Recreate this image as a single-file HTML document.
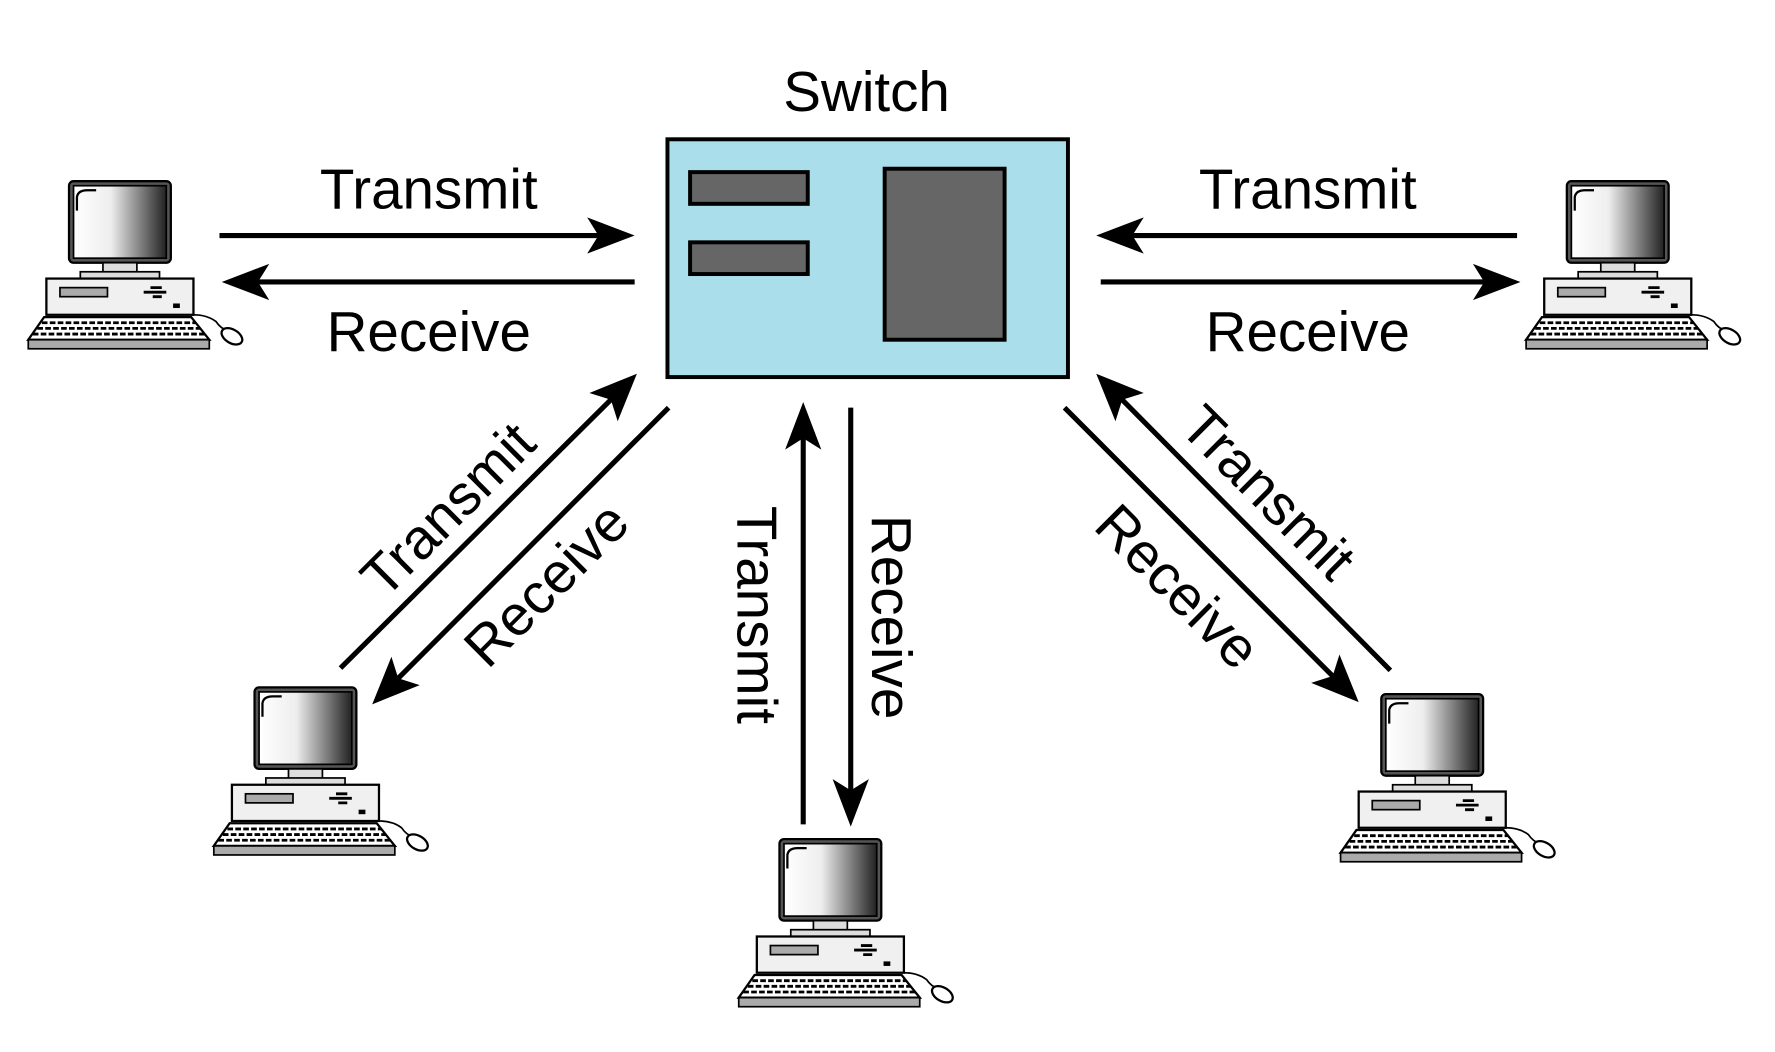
<!DOCTYPE html>
<html><head><meta charset="utf-8"><style>
html,body{margin:0;padding:0;background:#fff;}
svg{display:block;}
text{font-family:"Liberation Sans",sans-serif;font-size:50px;fill:#000;}
</style></head><body>
<svg width="1775" height="1052" viewBox="-1 0 1569 929" preserveAspectRatio="none" xmlns="http://www.w3.org/2000/svg">
<defs>
<linearGradient id="scr" x1="0" x2="1" y1="0" y2="0">
<stop offset="0" stop-color="#fff"/><stop offset="0.4" stop-color="#eee"/><stop offset="1" stop-color="#222"/>
</linearGradient>
<g id="pc">
<rect x="38" y="0" width="90" height="72" rx="4" fill="#555" stroke="#000" stroke-width="2"/>
<rect x="42" y="4" width="82" height="64" fill="url(#scr)" stroke="#000" stroke-width="1.5"/>
<path d="M45 26 L45 14 Q46 8 54 8 L62 8" fill="none" stroke="#000" stroke-width="2"/>
<rect x="68" y="72" width="30" height="9" fill="#ddd" stroke="#000" stroke-width="1.5"/>
<rect x="48" y="80" width="70" height="6" fill="#ddd" stroke="#000" stroke-width="1.5"/>
<rect x="18" y="86" width="130" height="32" fill="#f0f0f0" stroke="#000" stroke-width="2"/>
<rect x="30" y="94" width="42" height="8" fill="#aaa" stroke="#000" stroke-width="1.5"/>
<path d="M104 98 h20 M110 94 h10 M112 102 h8" stroke="#000" stroke-width="2.5"/>
<rect x="130" y="108" width="6" height="4" fill="#000"/>
<path d="M16 120 L146 120 L162 140 L2 140 Z" fill="#fff" stroke="#000" stroke-width="2"/>
<path d="M14 125 H150 M10 130 H154 M6 135 H158" stroke="#000" stroke-width="2.5" stroke-dasharray="5 2"/>
<rect x="2" y="140" width="160" height="8" fill="#aaa" stroke="#000" stroke-width="1.5"/>
<path d="M148 118 Q160 118 168 124 Q172 130 178 132" fill="none" stroke="#000" stroke-width="1.5"/>
<ellipse cx="182" cy="137" rx="10" ry="6" transform="rotate(30 182 137)" fill="#fff" stroke="#000" stroke-width="2"/>
</g>
</defs>

<use href="#pc" x="22" y="160"/>
<use href="#pc" x="1346" y="160"/>
<use href="#pc" x="186" y="607"/>
<use href="#pc" x="650" y="741"/>
<use href="#pc" x="1182" y="613"/>

<rect x="589" y="123" width="354" height="210" fill="#aadeeb" stroke="#000" stroke-width="3.5"/>
<rect x="609" y="152" width="104" height="28" fill="#666" stroke="#000" stroke-width="3.5"/>
<rect x="609" y="214" width="104" height="28" fill="#666" stroke="#000" stroke-width="3.5"/>
<rect x="781" y="149" width="106" height="151" fill="#666" stroke="#000" stroke-width="3.5"/>

<g stroke="#000" stroke-width="4.5" fill="none">
<line x1="193" y1="208" x2="535" y2="208"/>
<line x1="560" y1="249" x2="220" y2="249"/>
<line x1="1340" y1="208" x2="995" y2="208"/>
<line x1="972" y1="249" x2="1318" y2="249"/>
<line x1="300" y1="590" x2="545" y2="347"/>
<line x1="590" y1="360" x2="345" y2="605"/>
<line x1="709" y1="728" x2="709" y2="380"/>
<line x1="751" y1="360" x2="751" y2="705"/>
<line x1="1228" y1="592" x2="985" y2="347"/>
<line x1="940" y1="360" x2="1183" y2="603"/>
</g>
<g fill="#000">
<path d="M560 208 L518 192 L528 208 L518 224 Z"/>
<path d="M195 249 L237 233 L227 249 L237 265 Z"/>
<path d="M968 208 L1010 192 L1000 208 L1010 224 Z"/>
<path d="M1343 249 L1301 233 L1311 249 L1301 265 Z"/>
<path d="M562 330 L520 347 L539 353 L545 372 Z"/>
<path d="M328 622 L370 605 L351 599 L345 580 Z"/>
<path d="M709 355 L693 397 L709 387 L725 397 Z"/>
<path d="M751 730 L735 688 L751 698 L767 688 Z"/>
<path d="M968 330 L1010 347 L991 353 L985 372 Z"/>
<path d="M1200 620 L1158 603 L1177 597 L1183 578 Z"/>
</g>

<text x="765" y="98" text-anchor="middle">Switch</text>
<text x="378" y="184" text-anchor="middle">Transmit</text>
<text x="378" y="310" text-anchor="middle">Receive</text>
<text x="1155" y="184" text-anchor="middle">Transmit</text>
<text x="1155" y="310" text-anchor="middle">Receive</text>
<text transform="translate(395,450) rotate(-45)" x="0" y="17" text-anchor="middle">Transmit</text>
<text transform="translate(482,516) rotate(-45)" x="0" y="17" text-anchor="middle">Receive</text>
<text transform="translate(668,543) rotate(90)" x="0" y="17" text-anchor="middle">Transmit</text>
<text transform="translate(787,545) rotate(90)" x="0" y="17" text-anchor="middle">Receive</text>
<text transform="translate(1120,435) rotate(45)" x="0" y="17" text-anchor="middle">Transmit</text>
<text transform="translate(1040,518) rotate(45)" x="0" y="17" text-anchor="middle">Receive</text>
</svg>
</body></html>
